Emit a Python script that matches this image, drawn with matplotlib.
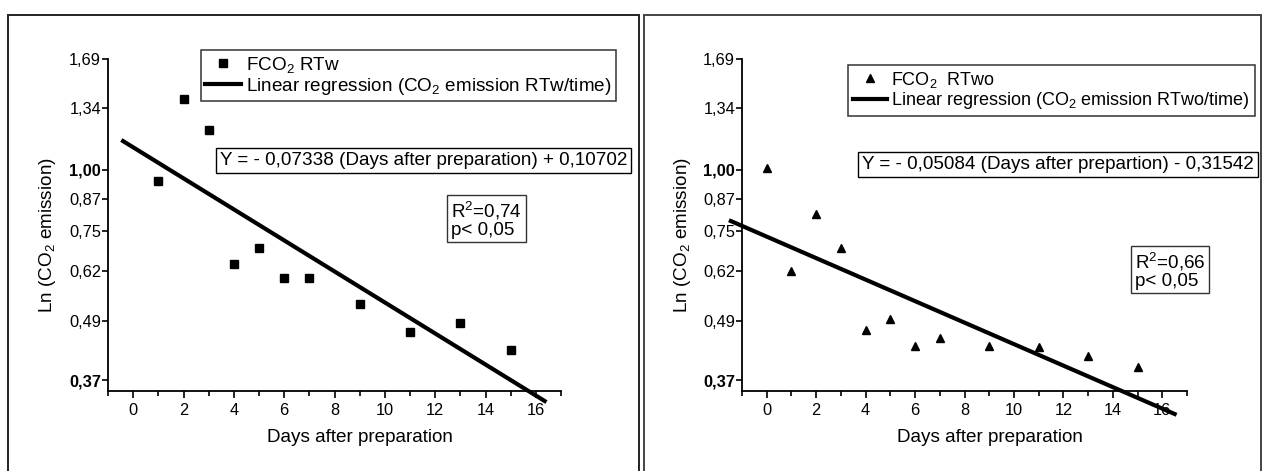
import numpy as np
import matplotlib
matplotlib.use('Agg')
import matplotlib.pyplot as plt
from matplotlib.patches import Rectangle
from matplotlib.lines import Line2D

plt.rcParams['font.family'] = ['Liberation Sans', 'DejaVu Sans']
plt.rcParams['mathtext.fontset'] = 'custom'
plt.rcParams['mathtext.rm'] = 'Liberation Sans'
plt.rcParams['mathtext.it'] = 'Liberation Sans:italic'
plt.rcParams['mathtext.default'] = 'regular'

# dados
dias_rtw = [1, 2, 3, 4, 5, 6, 7, 9, 11, 13, 15]
co2_rtw = [0.95, 1.40, 1.21, 0.64, 0.69, 0.60, 0.60, 0.53, 0.464, 0.485, 0.426]
dias_rtwo = [0, 1, 2, 3, 4, 5, 6, 7, 9, 11, 13, 15]
co2_rtwo = [1.01, 0.62, 0.81, 0.69, 0.47, 0.495, 0.434, 0.452, 0.434, 0.433, 0.415, 0.394]

# coeficientes das regressões (ln)
coef_rtw = (-0.07338, 0.10702)
coef_rtwo = (-0.05084, -0.31542)
faixa_rtw = (-0.4, 16.35)
faixa_rtwo = (-1.45, 16.5)

yticks = [0.37, 0.49, 0.62, 0.75, 0.87, 1.00, 1.34, 1.69]
ytick_labels = ['0,37', '0,49', '0,62', '0,75', '0,87', '1,00', '1,34', '1,69']

W, H = 1263, 471
fig = plt.figure(figsize=(W / 100, H / 100), dpi=100)


def fx(px):
    return px / W


def fy(py):
    return 1 - py / H


# molduras dos painéis
fig.add_artist(Rectangle((fx(8), -0.1), fx(639 - 8), fy(15) + 0.1, transform=fig.transFigure,
                         fill=False, ec='#222222', lw=1.4))
fig.add_artist(Rectangle((fx(644), -0.1), fx(1261 - 644), fy(15) + 0.1, transform=fig.transFigure,
                         fill=False, ec='#444444', lw=1.4))


def painel(x0, x1, dias, valores, coef, faixa, marcador):
    ax = fig.add_axes([fx(x0), fy(390.7), fx(x1 - x0), fy(59) - fy(390.7)])
    ax.set_yscale('log')
    ax.set_ylim(0.352, 1.69)
    ax.set_xlim(-1, 17)
    for s in ['top', 'right']:
        ax.spines[s].set_visible(False)
    for s in ['left', 'bottom']:
        ax.spines[s].set_linewidth(1.3)
    ax.yaxis.set_minor_locator(matplotlib.ticker.NullLocator())
    ax.set_yticks(yticks)
    lbls = ax.set_yticklabels(ytick_labels, fontsize=11.8)
    for l in lbls:
        if l.get_text() in ('1,00', '0,37'):
            l.set_fontweight('bold')
    ax.set_xticks(range(0, 17, 2))
    ax.set_xticks([-1] + list(range(1, 18, 2)), minor=True)
    ax.tick_params(axis='x', which='major', length=5, width=1.2, labelsize=11.8, pad=4)
    ax.tick_params(axis='x', which='minor', length=3.5, width=1.2)
    ax.tick_params(axis='y', length=4, width=1.2, pad=1)

    ax.plot(dias, valores, linestyle='none', marker=marcador, color='black',
            markersize=5.5 if marcador == 's' else 6, clip_on=False, zorder=3)
    xr = np.array(faixa)
    ax.plot(xr, np.exp(coef[0] * xr + coef[1]), color='black', lw=3, clip_on=False, zorder=4)

    ax.set_xlabel('Days after preparation', fontsize=13.6)
    ax.xaxis.set_label_coords(0.557, -0.115)
    ax.set_ylabel('Ln (CO$_2$ emission)', fontsize=13.6)
    ax.yaxis.set_label_coords(-0.11, 0.47)
    return ax


ax1 = painel(108, 561, dias_rtw, co2_rtw, coef_rtw, faixa_rtw, 's')
ax2 = painel(742, 1187, dias_rtwo, co2_rtwo, coef_rtwo, faixa_rtwo, '^')


def legenda(ax, marcador, r1, r2, px, py, fs):
    h1 = Line2D([], [], linestyle='none', marker=marcador, color='black', markersize=6)
    h2 = Line2D([], [], color='black', lw=3)
    leg = ax.legend([h1, h2], [r1, r2], loc='upper left', bbox_to_anchor=(fx(px), fy(py)),
                    bbox_transform=fig.transFigure, borderaxespad=0, fontsize=fs,
                    frameon=True, fancybox=False, edgecolor='#333333', framealpha=1,
                    borderpad=0.25, labelspacing=0.05, handlelength=1.9, handletextpad=0.25)
    leg.get_frame().set_linewidth(1.1)


legenda(ax1, 's', 'FCO$_2$ RTw', 'Linear regression (CO$_2$ emission RTw/time)', 200.7, 50, 13.6)
legenda(ax2, '^', 'FCO$_2$  RTwo', 'Linear regression (CO$_2$ emission RTwo/time)', 848, 65, 13.0)

caixa = dict(boxstyle='square,pad=0.2', fc='white', ec='black', lw=1)
fig.text(fx(220), fy(160.5), 'Y = - 0,07338 (Days after preparation) + 0,10702',
         fontsize=13.6, ha='left', va='center', bbox=caixa)
fig.text(fx(862), fy(164.5), 'Y = - 0,05084 (Days after prepartion) - 0,31542',
         fontsize=13.6, ha='left', va='center', bbox=caixa)

caixa2 = dict(boxstyle='square,pad=0.2', fc='white', ec='#333333', lw=1)
fig.text(fx(451), fy(219), 'R$^2$=0,74\np< 0,05', fontsize=13.6, ha='left', va='center',
         linespacing=1.0, bbox=caixa2)
fig.text(fx(1135), fy(270), 'R$^2$=0,66\np< 0,05', fontsize=13.6, ha='left', va='center',
         linespacing=1.0, bbox=caixa2)

fig.savefig('out.png', dpi=100)
